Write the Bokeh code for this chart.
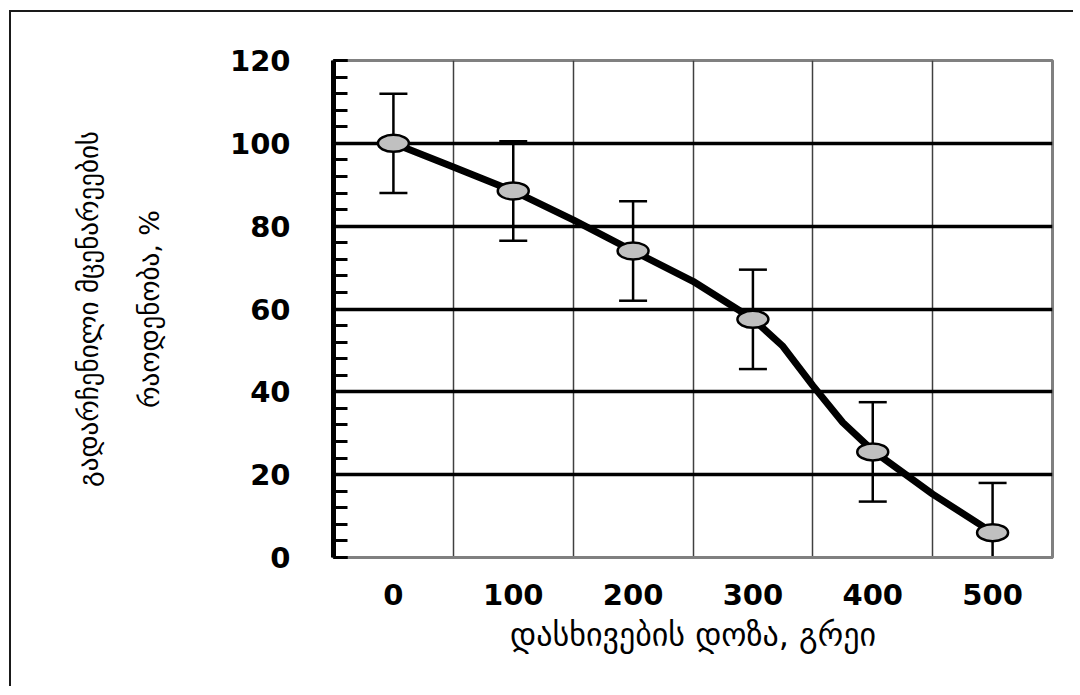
import math
from bokeh.plotting import figure
from bokeh.models import FixedTicker, SingleIntervalTicker, Range1d, LinearAxis
from bokeh.embed import file_html
from bokeh.resources import INLINE

# ---- data ----
doses = [0, 100, 200, 300, 400, 500]
survival = [100, 88.5, 74, 57.5, 25.5, 6]
error = [12, 12, 12, 12, 12, 12]
curve_x = [0, 50, 100, 150, 200, 250, 300, 325, 350, 375, 400, 450, 500]
curve_y = [100, 94.3, 88.5, 81.5, 74, 66.7, 57.6, 51, 41.5, 32.6, 25.8, 15.3, 6]
x_tick_labels = ["0", "100", "200", "300", "400", "500"]
x_grid_pos = [50, 150, 250, 350, 450]
y_grid_pos = [20, 40, 60, 80, 100]
y_title_1 = "გადარჩენილი მცენარეების"
y_title_2 = "რაოდენობა, %"
x_title = "დასხივების დოზა, გრეი"

lo = [s - e for s, e in zip(survival, error)]
hi = [s + e for s, e in zip(survival, error)]

W, H = 1064, 676
p = figure(width=W, height=H, output_backend="svg", toolbar_location=None,
           x_range=Range1d(-50, 550), y_range=Range1d(0, 120),
           min_border_left=322, min_border_right=23,
           min_border_top=48, min_border_bottom=131)
p.styles = {"margin-left": "9px", "margin-top": "10px",
            "border-left": "2px solid #1a1a1a", "border-top": "2px solid #1a1a1a"}

p.background_fill_color = "white"
p.border_fill_color = "white"
p.outline_line_color = "#808080"
p.outline_line_width = 3

# y axis
ya = p.yaxis[0]
ya.ticker = SingleIntervalTicker(interval=20, num_minor_ticks=5)
ya.axis_line_width = 5
ya.axis_line_color = "black"
ya.major_tick_in = 14
ya.major_tick_out = 0
ya.minor_tick_in = 14
ya.minor_tick_out = 0
ya.major_tick_line_width = 3
ya.minor_tick_line_width = 3
ya.major_tick_line_color = "black"
ya.minor_tick_line_color = "black"
ya.major_label_text_font = "DejaVu Sans"
ya.major_label_text_font_style = "bold"
ya.major_label_text_font_size = "29px"
ya.major_label_text_color = "black"
ya.major_label_standoff = 43

# extra left axes that only carry the two title lines
def title_axis(text, standoff):
    ax = LinearAxis(ticker=FixedTicker(ticks=[]), axis_line_color=None,
                    major_tick_line_color=None, minor_tick_line_color=None,
                    major_label_text_font_size="0px",
                    axis_label=text, axis_label_standoff=standoff,
                    axis_label_text_font="DejaVu Sans",
                    axis_label_text_font_style="normal",
                    axis_label_text_font_size="27px",
                    axis_label_text_color="black")
    p.add_layout(ax, "left")
    return ax

title_axis(y_title_2, 62)
title_axis(y_title_1, 27)

# x axis
xa = p.xaxis[0]
xa.ticker = FixedTicker(ticks=doses)
xa.major_label_overrides = {d: t for d, t in zip(doses, x_tick_labels)}
xa.major_tick_in = 0
xa.major_tick_out = 0
xa.minor_tick_in = 0
xa.minor_tick_out = 0
xa.axis_line_color = "#808080"
xa.axis_line_width = 3
xa.major_label_text_font = "DejaVu Sans"
xa.major_label_text_font_style = "bold"
xa.major_label_text_font_size = "29px"
xa.major_label_text_color = "black"
xa.major_label_standoff = 26
xa.axis_label = x_title
xa.axis_label_standoff = 8
xa.axis_label_text_font = "DejaVu Sans"
xa.axis_label_text_font_style = "normal"
xa.axis_label_text_font_size = "32px"
xa.axis_label_text_color = "black"

# grids
p.xgrid.ticker = FixedTicker(ticks=x_grid_pos)
p.xgrid.grid_line_color = "#404040"
p.xgrid.grid_line_width = 1.5
p.ygrid.ticker = FixedTicker(ticks=y_grid_pos)
p.ygrid.grid_line_color = "black"
p.ygrid.grid_line_width = 3.5

# curve
p.line(curve_x, curve_y, line_width=7, line_color="black", line_join="round", line_cap="round")

# error bars
p.segment(doses, lo, doses, hi, line_width=2.5, line_color="black")
p.scatter(doses, hi, marker="dash", size=28, line_width=2.5, line_color="black")
p.scatter(doses, lo, marker="dash", size=28, line_width=2.5, line_color="black")

# markers
p.ellipse(doses, survival, width=31, height=17, width_units="screen", height_units="screen",
          fill_color="#c0c0c0", line_color="black", line_width=2.5)

open("out.html", "w").write(file_html(p, INLINE))
